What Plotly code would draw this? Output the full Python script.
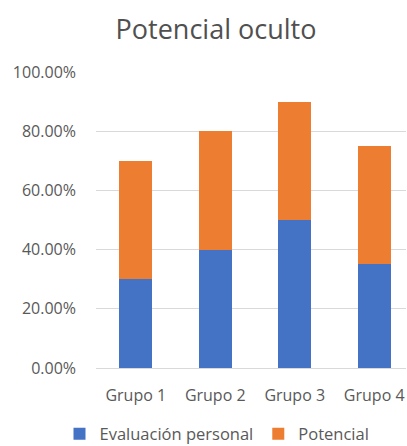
import plotly.graph_objects as go

categories = ["Grupo 1", "Grupo 2", "Grupo 3", "Grupo 4"]
evaluacion = [0.30, 0.40, 0.50, 0.35]
potencial = [0.40, 0.40, 0.40, 0.40]
y_ticks = [0, 0.2, 0.4, 0.6, 0.8, 1.0]

FONT = "Open Sans"
GREY = "#595959"

fig = go.Figure()
fig.add_trace(go.Bar(name="Evaluación personal", x=categories, y=evaluacion,
                     marker=dict(color="#4472C4", line=dict(width=0))))
fig.add_trace(go.Bar(name="Potencial", x=categories, y=potencial,
                     marker=dict(color="#ED7D31", line=dict(width=0))))

fig.update_layout(
    barmode="stack",
    bargap=0.585,
    width=407, height=446,
    margin=dict(l=96, r=1, t=72, b=78),
    paper_bgcolor="white", plot_bgcolor="white",
    font=dict(family=FONT, color=GREY, size=16),
    title=dict(text="Potencial oculto", x=216/407, xanchor="center",
               y=1 - 30/446, yanchor="middle",
               font=dict(family=FONT, size=27, color="#505050")),
    xaxis=dict(range=[-0.5, 3.4], showgrid=False, showline=False, zeroline=False,
               ticks="", ticklabelstandoff=16, tickfont=dict(size=16, color=GREY)),
    yaxis=dict(range=[0, 1.0], tickvals=y_ticks, tickformat=".2%",
               showgrid=True, gridcolor="#D9D9D9", gridwidth=1,
               zeroline=True, zerolinecolor="#D9D9D9", zerolinewidth=1,
               showline=False, ticks="", ticklabelstandoff=19,
               tickfont=dict(size=16, color=GREY)),
    legend=dict(orientation="h", xref="container", yref="container",
                x=217/407, xanchor="center", y=12/446, yanchor="middle",
                font=dict(size=16.5, color=GREY), itemwidth=30,
                traceorder="normal"),
)

fig.write_html("out.html")
